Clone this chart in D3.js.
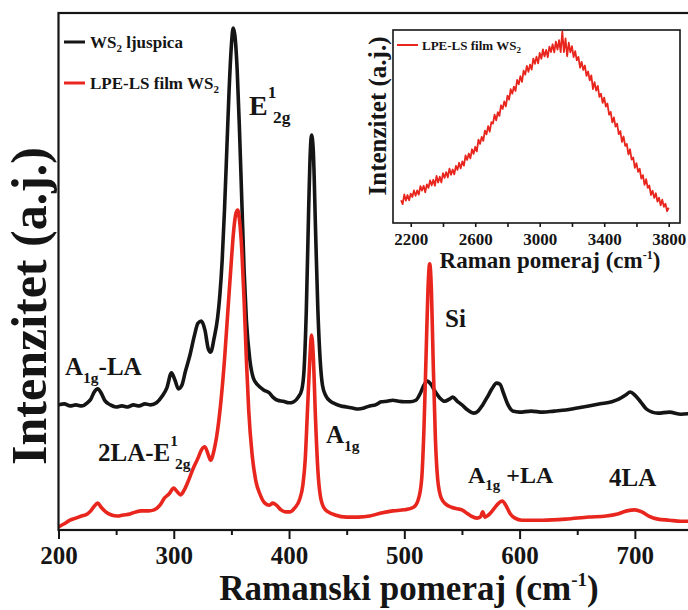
<!DOCTYPE html>
<html>
<head>
<meta charset="utf-8">
<script src="https://cdn.jsdelivr.net/npm/d3@7/dist/d3.min.js"></script>
<style>
  html, body { margin: 0; padding: 0; background: #fff; }
  svg { display: block; font-family: "Liberation Serif", "Times New Roman", serif; font-weight: bold; }
</style>
</head>
<body>
<svg id="chart" width="688" height="610"></svg>
<script>
// Raman spectra: WS2 flake vs. LPE-LS WS2 film (intensity in arbitrary units)
const flakeShift = [200,205,210,215,220,225,228,231,234,237,240,245,250,255,260,265,270,275,280,285,290,294,298,301,304,307,310,314,318,321,324,327,330,332,335,338,340,342,344,346,348,350,351.5,353,355,357,359,361,363,366,369,373,378,383,386,390,395,400,404,408,411,413,415,417,418.5,419.5,421,423,425,427,429,432,436,440,445,450,455,460,465,470,475,480,485,490,495,500,505,510,514,517,520,523,527,531,535,539,542,546,550,555,560,564,568,572,576,580,583,586,590,594,600,610,620,630,640,650,660,670,680,686,692,696,700,705,710,715,720,730,740,750];
const flakeInt = [24.2,24.4,24.0,24.2,24.0,24.6,25.3,26.7,27.3,26.5,25.1,24.2,23.8,24.0,23.8,24.2,24.0,24.4,24.2,24.6,25.9,27.5,30.4,29.0,27.3,28.0,30.6,33.8,37.7,40.0,40.4,38.7,35.0,34.4,37.1,41.0,45.5,52.2,61.9,73.5,85.1,93.8,97.1,95.7,89.0,77.4,63.8,50.3,40.6,32.9,29.4,28.0,27.1,26.5,25.7,25.1,24.9,24.6,24.8,25.7,27.1,30.9,42.6,61.9,73.5,76.4,73.5,58.0,42.6,32.9,28.0,25.9,24.9,24.4,24.0,23.8,23.6,23.4,23.6,24.0,24.2,24.8,24.9,25.1,24.9,24.8,24.8,25.1,26.5,28.0,28.8,28.2,26.7,25.5,24.9,25.3,25.7,24.9,24.2,23.2,22.6,23.0,24.2,25.7,27.3,28.4,28.2,26.5,24.2,23.0,22.8,23.0,22.8,23.0,23.2,23.6,24.0,24.4,24.8,25.3,26.1,26.7,26.1,24.8,23.4,22.8,22.6,22.8,22.4,22.6];

const filmShift = [200,205,210,215,220,225,228,231,234,237,241,246,251,256,262,267,272,278,283,288,292,296,300,303,306,309,313,317,321,324,327,330,332,335,338,341,344,347,350,352,354,355.5,357,359,361,363,365,368,371,375,379,383,386,389,393,397,401,405,409,412,414,416,418,419.5,421,423,425,427,430,434,440,450,460,470,480,490,500,508,512,515,517,519,520.5,522,523.5,525,527,529,532,536,541,546,550,554,558,563,566,568,570,573,577,581,585,588,592,596,602,620,640,660,675,685,693,700,706,712,720,730,740,750];
const filmInt = [0.6,1.2,1.9,2.3,2.7,3.1,3.7,4.6,5.2,4.4,3.5,2.9,2.7,2.9,3.1,3.5,3.7,3.7,3.9,4.8,6.2,7.0,8.1,7.4,6.8,7.7,9.7,12.0,13.9,15.5,16.1,14.5,13.5,15.5,19.3,25.1,32.9,42.6,52.2,58.0,61.3,61.9,60.0,54.2,44.5,32.9,23.2,14.5,9.7,6.8,5.2,4.8,5.2,4.8,3.9,3.5,3.5,4.3,5.8,8.7,13.5,23.2,32.9,37.7,33.8,21.3,11.6,6.8,4.4,3.5,2.9,2.5,2.5,2.7,3.3,3.7,3.9,4.4,5.8,9.7,19.3,34.8,46.4,51.5,46.4,32.9,17.4,9.7,6.2,5.0,4.4,4.1,3.9,3.3,2.7,2.3,2.5,3.5,2.5,2.9,3.9,5.0,5.6,4.8,3.1,2.3,1.9,1.9,2.1,2.5,2.7,3.1,3.7,3.9,3.5,2.7,2.1,1.9,1.7,1.7];

// Inset: broad photoluminescence-like background of the film
const insetShift = [2140,2150,2160,2170,2180,2190,2200,2210,2220,2230,2240,2250,2260,2270,2280,2290,2300,2310,2320,2330,2340,2350,2360,2370,2380,2390,2400,2410,2420,2430,2440,2450,2460,2470,2480,2490,2500,2510,2520,2530,2540,2550,2560,2570,2580,2590,2600,2610,2620,2630,2640,2650,2660,2670,2680,2690,2700,2710,2720,2730,2740,2750,2760,2770,2780,2790,2800,2810,2820,2830,2840,2850,2860,2870,2880,2890,2900,2910,2920,2930,2940,2950,2960,2970,2980,2990,3000,3010,3020,3030,3040,3050,3060,3070,3080,3090,3100,3110,3120,3130,3140,3150,3160,3170,3180,3190,3200,3210,3220,3230,3240,3250,3260,3270,3280,3290,3300,3310,3320,3330,3340,3350,3360,3370,3380,3390,3400,3410,3420,3430,3440,3450,3460,3470,3480,3490,3500,3510,3520,3530,3540,3550,3560,3570,3580,3590,3600,3610,3620,3630,3640,3650,3660,3670,3680,3690,3700,3710,3720,3730,3740,3750,3760,3770,3780,3790,3800];
const insetInt = [11.8,9.8,14.8,11.6,14.5,11.8,15.2,13.5,16.9,14.1,16.9,14.7,19.1,16.8,19.3,15.9,20.0,18.2,22.1,19.5,22.4,19.3,24.4,21.0,24.0,21.0,25.8,23.4,26.4,23.6,28.2,25.0,27.7,25.2,29.6,27.5,31.2,28.3,31.9,29.7,35.0,32.7,36.0,33.5,38.2,35.8,39.5,37.1,43.2,41.0,44.6,42.6,47.9,45.9,50.2,47.3,52.3,51.5,56.1,53.2,57.4,55.5,61.0,59.1,63.0,60.4,66.0,63.9,69.3,67.0,70.7,68.4,74.1,71.9,76.1,73.1,78.9,76.9,81.4,78.3,82.1,79.5,85.2,82.5,86.2,82.7,88.1,85.1,89.9,86.3,89.7,85.9,91.4,88.6,92.6,88.4,94.0,89.8,94.7,88.5,99.2,88.5,95.6,86.4,93.4,88.4,91.6,86.0,89.0,84.3,86.1,80.5,83.5,79.3,81.6,76.2,78.5,73.9,76.5,69.4,73.0,68.6,71.0,65.3,67.0,62.2,65.0,60.3,61.9,56.1,57.6,52.1,54.7,49.9,51.5,46.0,47.6,42.0,44.8,40.0,41.0,35.5,38.2,32.8,33.9,28.6,31.0,26.5,28.1,23.0,24.8,19.8,22.7,18.2,19.4,14.5,16.7,13.0,15.4,11.1,13.1,9.2,12.1,8.4,10.0,6.1,7.9];

// Axis tick values
const mainTicksMajor = [200,300,400,500,600,700];
const mainTicksMinor = [250,350,450,550,650,750];
const insetTicks = [2200,2400,2600,2800,3000,3200,3400,3600,3800];
const insetTickLabels = [2200,2600,3000,3400,3800];

const BLACK = "#151515";
const RED = "#e8261e";

const svg = d3.select("#chart");

// ---------- main panel ----------
const M = { left: 58.5, top: 13, right: 692.5, bottom: 530 };
const x = d3.scaleLinear().domain([200, 750]).range([M.left, M.right]);
const y = d3.scaleLinear().domain([0, 100]).range([M.bottom, M.top]);

svg.append("defs").append("clipPath").attr("id", "plotClip")
  .append("rect").attr("x", M.left).attr("y", M.top)
  .attr("width", M.right - M.left).attr("height", M.bottom - M.top);

const line = d3.line().x(d => x(d[0])).y(d => y(d[1])).curve(d3.curveMonotoneX);

const plot = svg.append("g").attr("clip-path", "url(#plotClip)");
plot.append("path").datum(d3.zip(flakeShift, flakeInt))
  .attr("d", line).attr("fill", "none").attr("stroke", BLACK)
  .attr("stroke-width", 3.6).attr("stroke-linejoin", "round");
plot.append("path").datum(d3.zip(filmShift, filmInt))
  .attr("d", line).attr("fill", "none").attr("stroke", RED)
  .attr("stroke-width", 3.6).attr("stroke-linejoin", "round");

// frame
svg.append("rect").attr("x", M.left).attr("y", M.top)
  .attr("width", M.right - M.left).attr("height", M.bottom - M.top)
  .attr("fill", "none").attr("stroke", BLACK).attr("stroke-width", 2.2);

// bottom axis
const xAxis = svg.append("g").attr("transform", `translate(0,${M.bottom})`);
xAxis.call(d3.axisBottom(x).tickValues(mainTicksMajor).tickSize(9).tickFormat(d3.format("d")))
  .call(g => g.select(".domain").remove())
  .call(g => g.selectAll(".tick line").attr("stroke", BLACK).attr("stroke-width", 2))
  .call(g => g.selectAll(".tick text").attr("fill", BLACK)
    .attr("font-family", "Liberation Serif, serif").attr("font-weight", "bold")
    .attr("font-size", 25).attr("dy", null).attr("y", 34));
const xMinor = svg.append("g").attr("transform", `translate(0,${M.bottom})`);
xMinor.call(d3.axisBottom(x).tickValues(mainTicksMinor).tickSize(5).tickFormat(""))
  .call(g => g.select(".domain").remove())
  .call(g => g.selectAll(".tick line").attr("stroke", BLACK).attr("stroke-width", 2));

// axis titles
const xTitle = svg.append("text").attr("x", 409).attr("y", 600)
  .attr("text-anchor", "middle").attr("font-size", 35).attr("fill", BLACK);
xTitle.append("tspan").text("Ramanski pomeraj (cm");
xTitle.append("tspan").attr("font-size", 19).attr("dy", -14).text("-1");
xTitle.append("tspan").attr("dy", 14).text(")");

svg.append("text").attr("transform", "translate(46,306) rotate(-90)")
  .attr("text-anchor", "middle").attr("font-size", 50).attr("fill", BLACK)
  .text("Intenzitet (a.j.)");

// legend
const legend = [
  { color: BLACK, y: 42, main: "WS", sub: "2", rest: " ljuspica" },
  { color: RED, y: 83, main: "LPE-LS film WS", sub: "2", rest: "" }
];
legend.forEach(L => {
  svg.append("line").attr("x1", 64).attr("x2", 85).attr("y1", L.y).attr("y2", L.y)
    .attr("stroke", L.color).attr("stroke-width", 3);
  const t = svg.append("text").attr("x", 90).attr("y", L.y + 5.5)
    .attr("font-size", 17).attr("fill", BLACK);
  t.append("tspan").text(L.main);
  t.append("tspan").attr("font-size", 11).attr("dy", 4).text(L.sub);
  if (L.rest) t.append("tspan").attr("dy", -4).text(L.rest);
});

// peak annotations
function label(px, py, main, sup, sub, rest, size) {
  const t = svg.append("text").attr("x", px).attr("y", py)
    .attr("font-size", size).attr("fill", BLACK);
  t.append("tspan").text(main);
  let dy = 0;
  if (sup) { t.append("tspan").attr("font-size", size * 0.62).attr("dy", -size * 0.62).text(sup); dy = -size * 0.62; }
  if (sub) {
    const sp = t.append("tspan").attr("font-size", size * 0.62).attr("dy", -dy + size * 0.3).text(sub);
    if (sup) sp.attr("dx", -size * 0.12);
    dy = size * 0.3;
  }
  if (rest) t.append("tspan").attr("dy", -dy).text(rest);
}
label(249, 115, "E", "1", "2g", "", 28);
label(65, 375, "A", null, "1g", "-LA", 25);
label(98, 461, "2LA-E", "1", "2g", "", 25);
label(326, 443, "A", null, "1g", "", 25);
label(445, 327, "Si", null, null, "", 25);
label(468, 483, "A", null, "1g", " +LA", 24);
label(609, 486, "4LA", null, null, "", 25);

// ---------- inset panel ----------
const I = { left: 393, top: 30, right: 680, bottom: 223 };
const xi = d3.scaleLinear().domain([2090, 3870]).range([I.left, I.right]);
const yi = d3.scaleLinear().domain([0, 100]).range([I.bottom, I.top]);

svg.append("rect").attr("x", I.left).attr("y", I.top)
  .attr("width", I.right - I.left).attr("height", I.bottom - I.top)
  .attr("fill", "#fff");

const lineI = d3.line().x(d => xi(d[0])).y(d => yi(d[1]));
svg.append("path").datum(d3.zip(insetShift, insetInt))
  .attr("d", lineI).attr("fill", "none").attr("stroke", RED)
  .attr("stroke-width", 1.8).attr("stroke-linejoin", "round");

svg.append("rect").attr("x", I.left).attr("y", I.top)
  .attr("width", I.right - I.left).attr("height", I.bottom - I.top)
  .attr("fill", "none").attr("stroke", BLACK).attr("stroke-width", 1.6);

const xiAxis = svg.append("g").attr("transform", `translate(0,${I.bottom})`);
xiAxis.call(d3.axisBottom(xi).tickValues(insetTicks).tickSize(4)
    .tickFormat(d => insetTickLabels.includes(d) ? d3.format("d")(d) : ""))
  .call(g => g.select(".domain").remove())
  .call(g => g.selectAll(".tick line").attr("stroke", BLACK).attr("stroke-width", 1.6))
  .call(g => g.selectAll(".tick text").attr("fill", BLACK)
    .attr("font-family", "Liberation Serif, serif").attr("font-weight", "bold")
    .attr("font-size", 17).attr("dy", null).attr("y", 22));

const xiTitle = svg.append("text").attr("x", 550).attr("y", 268)
  .attr("text-anchor", "middle").attr("font-size", 23).attr("fill", BLACK);
xiTitle.append("tspan").text("Raman pomeraj (cm");
xiTitle.append("tspan").attr("font-size", 12).attr("dy", -9).text("-1");
xiTitle.append("tspan").attr("dy", 9).text(")");

svg.append("text").attr("transform", "translate(386,116) rotate(-90)")
  .attr("text-anchor", "middle").attr("font-size", 25).attr("fill", BLACK)
  .text("Intenzitet (a.j.)");

svg.append("line").attr("x1", 397).attr("x2", 418).attr("y1", 45).attr("y2", 45)
  .attr("stroke", RED).attr("stroke-width", 2);
const il = svg.append("text").attr("x", 422).attr("y", 50)
  .attr("font-size", 13).attr("fill", BLACK);
il.append("tspan").text("LPE-LS film WS");
il.append("tspan").attr("font-size", 9).attr("dy", 3).text("2");
</script>
</body>
</html>
